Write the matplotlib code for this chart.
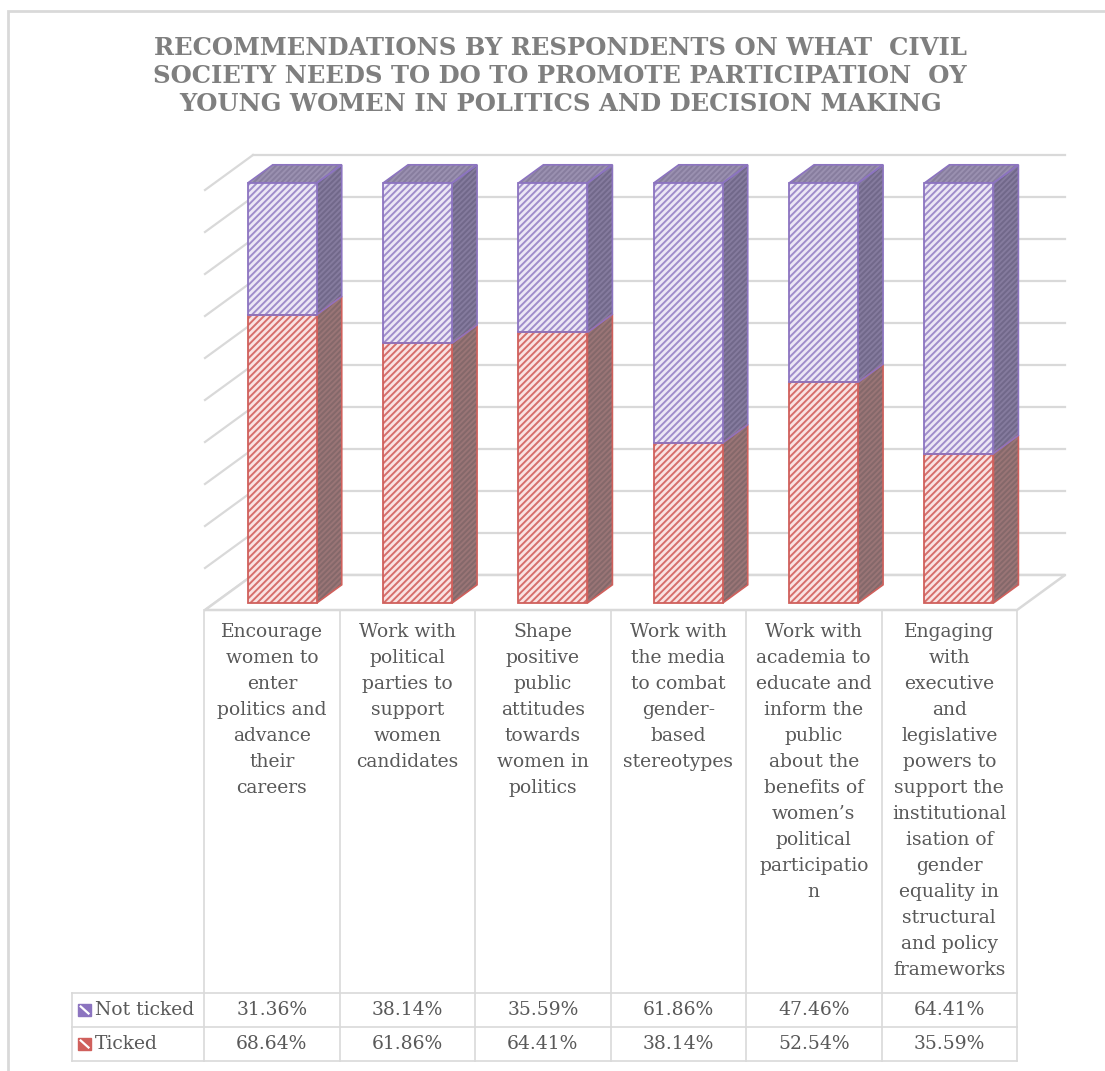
import matplotlib.pyplot as plt
from matplotlib.patches import Rectangle

plt.rcParams['font.family'] = 'DejaVu Serif'
plt.rcParams['hatch.linewidth'] = 1.4

# Survey results (% of respondents)
categories = [
    "Encourage\nwomen to\nenter\npolitics and\nadvance\ntheir\ncareers",
    "Work with\npolitical\nparties to\nsupport\nwomen\ncandidates",
    "Shape\npositive\npublic\nattitudes\ntowards\nwomen in\npolitics",
    "Work with\nthe media\nto combat\ngender-\nbased\nstereotypes",
    "Work with\nacademia to\neducate and\ninform the\npublic\nabout the\nbenefits of\nwomen\u2019s\npolitical\nparticipatio\nn",
    "Engaging\nwith\nexecutive\nand\nlegislative\npowers to\nsupport the\ninstitutional\nisation of\ngender\nequality in\nstructural\nand policy\nframeworks",
]
series_names = ["Not ticked", "Ticked"]
not_ticked = [31.36, 38.14, 35.59, 61.86, 47.46, 64.41]
ticked = [68.64, 61.86, 64.41, 38.14, 52.54, 35.59]

title = ("RECOMMENDATIONS BY RESPONDENTS ON WHAT  CIVIL\n"
         "SOCIETY NEEDS TO DO TO PROMOTE PARTICIPATION  OY\n"
         "YOUNG WOMEN IN POLITICS AND DECISION MAKING")

# colours: front fill, hatch, outline, side fill, side hatch
RED = dict(front="#f9e2e2", line="#d66e6b", edge="#d0605c", side="#84686a", side_hatch="#9a7576")
PURPLE = dict(front="#ece7f5", line="#a08dcb", edge="#8c74c0", side="#71688a", side_hatch="#857b9e")
TOP = dict(fill="#877d9e", hatch="#9a90b0")
GRID = "#d9d9d9"
TEXT = "#595959"

W, H = 1105, 1071
fig = plt.figure(figsize=(W / 100, H / 100), dpi=100)


def px_box(x0, y0, x1, y1):
    # pixel box measured from the top-left corner -> figure rect
    return [x0 / W, 1 - y1 / H, (x1 - x0) / W, (y1 - y0) / H]


# outer chart frame
fig.add_artist(Rectangle((8 / W, -0.1), 1.2, 1 - 11 / H + 0.1, transform=fig.transFigure,
                         fill=False, edgecolor=GRID, lw=2))

fig.text(0.507, 1 - 76 / H, title, ha="center", va="center", fontsize=17.5,
         fontweight="bold", color="#7f7f7f", linespacing=1.22)

# front plane of the 3-D plot area
ax = fig.add_axes(px_box(205, 190, 1017, 610))
ax.set_xlim(-0.5, 5.5)
ax.set_ylim(0, 100)
ax.axis("off")

# full depth of the box, in data units
DEPTH_X = 48 / (812 / 6)
DEPTH_Y = 35 / (420 / 100)
D0, D1 = 0.2, 0.72   # bar front / back depth
BW = 0.51            # bar width


def shift(x, y, d):
    return x + d * DEPTH_X, y + d * DEPTH_Y


# back wall gridlines and side wall
for v in range(0, 101, 10):
    (xa, ya), (xb, yb) = shift(-0.5, v, 1), shift(5.5, v, 1)
    ax.plot([xa, xb], [ya, yb], color=GRID, lw=1.6, clip_on=False, zorder=1)
    (xc, yc) = shift(-0.5, v, 0)
    ax.plot([xc, xa], [yc, ya], color=GRID, lw=1.6, clip_on=False, zorder=1)

floor = [shift(-0.5, 0, 0), shift(5.5, 0, 0), shift(5.5, 0, 1), shift(-0.5, 0, 1)]
ax.fill([p[0] for p in floor], [p[1] for p in floor], facecolor="white",
        edgecolor=GRID, lw=1.8, clip_on=False, zorder=2)


def face(points, fill, hatch_color, edge, z):
    xs = [p[0] for p in points]
    ys = [p[1] for p in points]
    ax.fill(xs, ys, facecolor=fill, edgecolor=hatch_color, hatch="//////", lw=0,
            clip_on=False, zorder=z)
    ax.fill(xs, ys, facecolor="none", edgecolor=edge, lw=1.2, clip_on=False, zorder=z + 0.1)


x = list(range(len(categories)))
for i in x:
    xr = i + BW / 2
    xl = i - BW / 2
    stacks = [(0, ticked[i], RED), (ticked[i], ticked[i] + not_ticked[i], PURPLE)]
    for y0, y1, col in stacks:
        side = [shift(xr, y0, D0), shift(xr, y0, D1), shift(xr, y1, D1), shift(xr, y1, D0)]
        face(side, col["side"], col["side_hatch"], col["edge"], 3)
    top_y = ticked[i] + not_ticked[i]
    top = [shift(xl, top_y, D0), shift(xr, top_y, D0), shift(xr, top_y, D1), shift(xl, top_y, D1)]
    face(top, TOP["fill"], TOP["hatch"], PURPLE["edge"], 3)

# front faces of the stacked columns: hatched fill, then the outline
fx = [shift(i, 0, D0)[0] for i in x]
base = D0 * DEPTH_Y
tops = [base + t for t in ticked]
ax.bar(fx, ticked, bottom=base, width=BW, facecolor=RED["front"], edgecolor=RED["line"],
       hatch="/////", lw=0, clip_on=False, zorder=5)
ax.bar(fx, not_ticked, bottom=tops, width=BW, facecolor=PURPLE["front"],
       edgecolor=PURPLE["line"], hatch="/////", lw=0, clip_on=False, zorder=5)
ax.bar(fx, ticked, bottom=base, width=BW, fill=False, edgecolor=RED["edge"],
       lw=1.3, clip_on=False, zorder=6)
ax.bar(fx, not_ticked, bottom=tops, width=BW, fill=False, edgecolor=PURPLE["edge"],
       lw=1.3, clip_on=False, zorder=6)

# data table under the plot
HDR = 132 / (812 / 6)
tab = fig.add_axes(px_box(72, 610, 1017, 1061))
tab.set_xlim(-0.5 - HDR, 5.5)
tab.set_ylim(451, 0)
tab.axis("off")

for k in range(len(categories) + 1):
    tab.plot([k - 0.5, k - 0.5], [0, 451], color=GRID, lw=1.2, clip_on=False)
tab.plot([-0.5 - HDR] * 2, [383, 451], color=GRID, lw=1.2, clip_on=False)
for yy in (383, 417, 451):
    tab.plot([-0.5 - HDR, 5.5], [yy, yy], color=GRID, lw=1.2, clip_on=False)

for i, label in enumerate(categories):
    tab.text(i, 13, label, ha="center", va="top", fontsize=13.5, color=TEXT, linespacing=1.57)

rows = [(not_ticked, PURPLE, 400), (ticked, RED, 434)]
key_w = 13 / (812 / 6)
for name, (vals, col, yy) in zip(series_names, rows):
    for i, v in enumerate(vals):
        tab.text(i, yy, f"{v:.2f}%", ha="center", va="center", fontsize=13.5, color=TEXT)
    kx = -0.5 - HDR + 0.045
    tab.add_patch(Rectangle((kx, yy - 6), key_w, 12, facecolor=col["edge"],
                            edgecolor=col["edge"], lw=1.0))
    tab.plot([kx + 0.2 * key_w, kx + 0.8 * key_w], [yy - 3.5, yy + 3.5], color="white", lw=1.6)
    tab.text(kx + key_w + 0.03, yy, name, ha="left", va="center", fontsize=13.5, color=TEXT)

fig.savefig("out.png", dpi=100)
